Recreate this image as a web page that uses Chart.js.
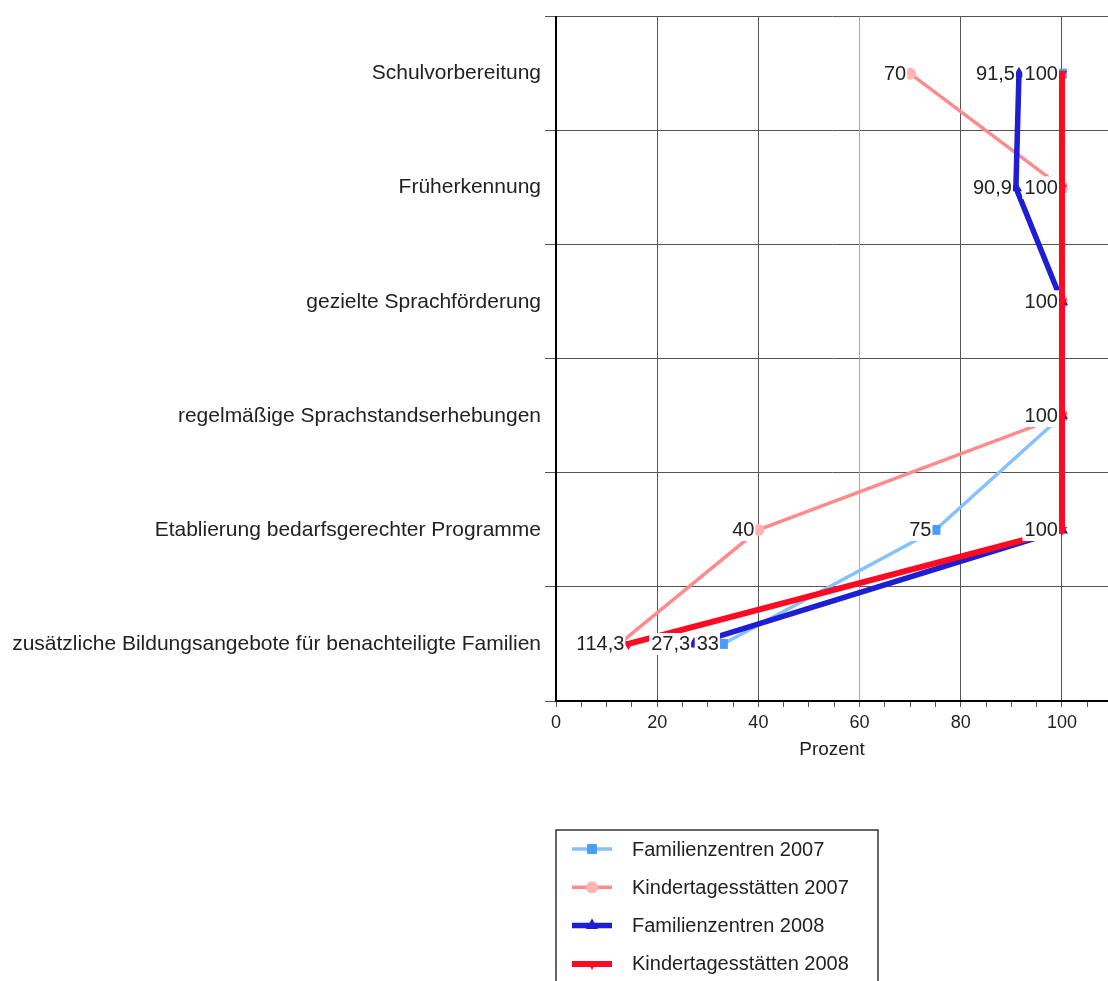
<!DOCTYPE html>
<html>
<head>
<meta charset="utf-8">
<script src="https://cdn.jsdelivr.net/npm/chart.js@4/dist/chart.umd.min.js"></script>
<style>
  html, body { margin: 0; padding: 0; background: #fff; overflow: hidden; }
  #c { display: block; }
</style>
</head>
<body>
<canvas id="c" width="1108" height="981" style="width:1108px;height:981px"></canvas>
<script>
// Bereiche (Kategorien der y-Achse)
const categories = [
  'Schulvorbereitung',
  'Früherkennung',
  'gezielte Sprachförderung',
  'regelmäßige Sprachstandserhebungen',
  'Etablierung bedarfsgerechter Programme',
  'zusätzliche Bildungsangebote für benachteiligte Familien'
];

// Anteile in Prozent je Einrichtungstyp und Jahr
const familienzentren2007 = [100, 100, 100, 100, 75, 33];
const kitas2007 = [70, 100, 100, 100, 40, 12.5];
const familienzentren2008 = [91.5, 90.9, 100, 100, 100, 27.3];
const kitas2008 = [100, 100, 100, 100, 100, 14.3];

const seriesNames = [
  'Familienzentren 2007',
  'Kindertagesstätten 2007',
  'Familienzentren 2008',
  'Kindertagesstätten 2008'
];

// x-Achse: Schritte und beschriftete Werte
const xTickStep = 5;
const xLabelStep = 20;
const xMax = 109.1;

const FONT = '"Liberation Sans", Arial, Helvetica, sans-serif';

function fmt(v) { return String(v).replace('.', ','); }

// Wertebeschriftung links neben jedem Punkt, mit weißem Hintergrund
const valueLabels = {
  id: 'valueLabels',
  afterDatasetsDraw(chart) {
    const ctx = chart.ctx;
    ctx.save();
    ctx.font = '20px ' + FONT;
    ctx.textAlign = 'right';
    ctx.textBaseline = 'middle';
    chart.data.datasets.forEach((ds, i) => {
      const meta = chart.getDatasetMeta(i);
      meta.data.forEach((pt, j) => {
        const txt = fmt(ds.data[j]);
        const w = ctx.measureText(txt).width;
        const right = pt.x - 4;
        ctx.fillStyle = '#fff';
        ctx.fillRect(right - w - 2, pt.y - 11, w + 3, 22);
        ctx.fillStyle = '#222';
        ctx.fillText(txt, right, pt.y + 1);
      });
    });
    ctx.restore();
  }
};

function drawMarker(ctx, style, x, y, r, color, rot) {
  ctx.save();
  ctx.fillStyle = color;
  ctx.translate(x, y);
  ctx.rotate((rot || 0) * Math.PI / 180);
  ctx.beginPath();
  if (style === 'rect') {
    const s = r * Math.SQRT1_2;
    ctx.rect(-s, -s, 2 * s, 2 * s);
  } else if (style === 'circle') {
    ctx.arc(0, 0, r, 0, Math.PI * 2);
  } else {
    ctx.moveTo(0, -r);
    ctx.lineTo(r * 0.87, r * 0.5);
    ctx.lineTo(-r * 0.87, r * 0.5);
    ctx.closePath();
  }
  ctx.fill();
  ctx.restore();
}

// Legende mit Rahmen unterhalb der Achse
const boxLegend = {
  id: 'boxLegend',
  afterDraw(chart) {
    const ctx = chart.ctx;
    const x0 = 556, y0 = 830, w = 322, h = 190, rowH = 38.3;
    ctx.save();
    ctx.strokeStyle = '#333';
    ctx.lineWidth = 1.5;
    ctx.strokeRect(x0, y0, w, h);
    ctx.font = '20px ' + FONT;
    ctx.textAlign = 'left';
    ctx.textBaseline = 'middle';
    chart.data.datasets.forEach((ds, i) => {
      const y = y0 + 19 + i * rowH;
      ctx.strokeStyle = ds.borderColor;
      ctx.lineWidth = ds.borderWidth;
      ctx.beginPath();
      ctx.moveTo(572, y);
      ctx.lineTo(612, y);
      ctx.stroke();
      drawMarker(ctx, ds.pointStyle, 592, y, ds.pointRadius, ds.pointBackgroundColor, ds.pointRotation);
      ctx.fillStyle = '#222';
      ctx.fillText(ds.label, 632, y + 1);
    });
    ctx.restore();
  }
};

const seriesValues = [familienzentren2007, kitas2007, familienzentren2008, kitas2008];
const seriesStyle = [
  { borderColor: '#85c2ff', pointBackgroundColor: '#4a9dff', pointStyle: 'rect', pointRadius: 7, borderWidth: 3.5, pointRotation: 0, order: 4 },
  { borderColor: '#ff8c8c', pointBackgroundColor: '#ffb5b5', pointStyle: 'circle', pointRadius: 6, borderWidth: 3.5, pointRotation: 0, order: 3 },
  { borderColor: '#1e1ed2', pointBackgroundColor: '#1e1ed2', pointStyle: 'triangle', pointRadius: 7, borderWidth: 5.5, pointRotation: 0, order: 2 },
  { borderColor: '#ff0a23', pointBackgroundColor: '#ff0a23', pointStyle: 'triangle', pointRadius: 6, borderWidth: 6, pointRotation: 180, order: 1 }
];

const datasets = seriesValues.map((vals, i) => Object.assign({
  label: seriesNames[i],
  data: vals,
  pointBorderWidth: 0,
  pointBorderColor: seriesStyle[i].pointBackgroundColor,
  tension: 0,
  fill: false,
  clip: false
}, seriesStyle[i]));

new Chart(document.getElementById('c'), {
  type: 'line',
  data: { labels: categories, datasets },
  plugins: [valueLabels, boxLegend],
  options: {
    indexAxis: 'y',
    responsive: false,
    animation: false,
    events: [],
    layout: { autoPadding: false, padding: { top: 11, bottom: 220, left: 0, right: 0 } },
    plugins: { legend: { display: false }, tooltip: { enabled: false } },
    scales: {
      y: {
        type: 'category',
        offset: true,
        afterFit(scale) { scale.width = 556; },
        grid: { offset: true, color: '#555', lineWidth: 1, tickLength: 11, tickColor: '#555' },
        border: { color: '#000', width: 2 },
        ticks: { color: '#222', font: { family: FONT, size: 21 }, padding: 4 }
      },
      x: {
        type: 'linear',
        min: 0,
        max: xMax,
        afterFit(scale) { scale.height = 60; },
        afterBuildTicks(scale) {
          const t = [];
          for (let v = 0; v <= xMax; v += xTickStep) t.push({ value: v });
          scale.ticks = t;
        },
        grid: {
          color: ctx => (ctx.tick && ctx.tick.value % xLabelStep === 0 && ctx.tick.value <= 100)
            ? (ctx.tick.value === 60 ? '#aaa' : '#555') : 'rgba(0,0,0,0)',
          lineWidth: 1,
          tickLength: 6,
          tickColor: '#555'
        },
        border: { color: '#000', width: 2 },
        ticks: {
          autoSkip: false,
          maxRotation: 0,
          color: '#222',
          font: { family: FONT, size: 18 },
          padding: 5,
          callback: v => (v % xLabelStep === 0 && v <= 100) ? String(v) : ''
        },
        title: { display: true, text: 'Prozent', color: '#222', font: { family: FONT, size: 19 }, padding: { top: 0, bottom: 0 } }
      }
    }
  }
});
</script>
</body>
</html>
